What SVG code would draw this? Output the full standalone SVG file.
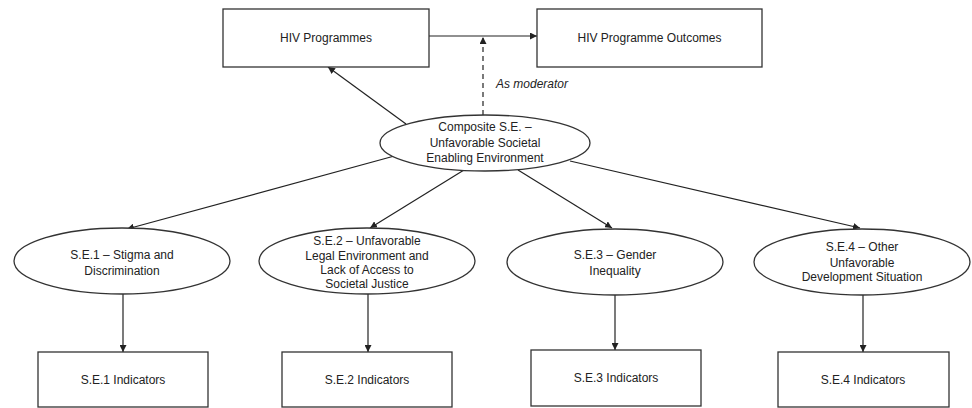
<svg xmlns="http://www.w3.org/2000/svg" width="972" height="408" viewBox="0 0 972 408">
<defs>
<style>
.box{fill:#fff;stroke:#333;stroke-width:1.3}
.t{font-family:"Liberation Sans",Arial,sans-serif;font-size:12px;fill:#222;text-anchor:middle}
.ln{stroke:#222;stroke-width:1.2;fill:none}
.dash{stroke:#222;stroke-width:1.2;fill:none;stroke-dasharray:5,4}
</style>
<marker id="ah" viewBox="0 0 10 10" refX="10" refY="5" markerWidth="7" markerHeight="7" orient="auto" markerUnits="userSpaceOnUse"><path d="M0,0 L10,5 L0,10 z" fill="#222"/></marker>
</defs>
<rect width="972" height="408" fill="#fff"/>
<g id="connectors">
<line class="ln" x1="429" y1="36" x2="537" y2="36" marker-end="url(#ah)"/>
<line class="dash" x1="483" y1="115" x2="483" y2="37" marker-end="url(#ah)"/>
<line class="ln" x1="406" y1="124" x2="328" y2="67" marker-end="url(#ah)"/>
<line class="ln" x1="398" y1="155" x2="127" y2="229" marker-end="url(#ah)"/>
<line class="ln" x1="464" y1="170" x2="370" y2="228" marker-end="url(#ah)"/>
<line class="ln" x1="518" y1="170" x2="612" y2="228" marker-end="url(#ah)"/>
<line class="ln" x1="570" y1="161" x2="860" y2="228" marker-end="url(#ah)"/>
<line class="ln" x1="123" y1="294" x2="123" y2="352" marker-end="url(#ah)"/>
<line class="ln" x1="368" y1="294" x2="368" y2="352" marker-end="url(#ah)"/>
<line class="ln" x1="615" y1="295" x2="615" y2="350" marker-end="url(#ah)"/>
<line class="ln" x1="863" y1="295" x2="863" y2="352" marker-end="url(#ah)"/>
<text x="496" y="88" font-family="Liberation Sans, Arial, sans-serif" font-size="12" font-style="italic" fill="#222">As moderator</text>
</g>
<g id="hiv-programmes">
<rect class="box" x="223" y="9" width="206" height="58"/>
<text class="t" x="326" y="42">HIV Programmes</text>
</g>
<g id="hiv-outcomes">
<rect class="box" x="537" y="9" width="225" height="58"/>
<text class="t" x="649.5" y="42">HIV Programme Outcomes</text>
</g>
<g id="composite">
<ellipse class="box" cx="485" cy="143" rx="105" ry="28"/>
<text class="t" x="485" y="131">Composite S.E. –</text>
<text class="t" x="485" y="147">Unfavorable Societal</text>
<text class="t" x="485" y="162">Enabling Environment</text>
</g>
<g id="se1">
<ellipse class="box" cx="122" cy="261" rx="108" ry="33"/>
<text class="t" x="122" y="259">S.E.1 – Stigma and</text>
<text class="t" x="122" y="275">Discrimination</text>
</g>
<g id="se2">
<ellipse class="box" cx="367" cy="261" rx="108" ry="33"/>
<text class="t" x="367" y="245">S.E.2 – Unfavorable</text>
<text class="t" x="367" y="260">Legal Environment and</text>
<text class="t" x="367" y="274">Lack of Access to</text>
<text class="t" x="367" y="288">Societal Justice</text>
</g>
<g id="se3">
<ellipse class="box" cx="615" cy="262" rx="108" ry="33"/>
<text class="t" x="615" y="259">S.E.3 – Gender</text>
<text class="t" x="615" y="275">Inequality</text>
</g>
<g id="se4">
<ellipse class="box" cx="862" cy="262" rx="108" ry="33"/>
<text class="t" x="862" y="251">S.E.4 – Other</text>
<text class="t" x="862" y="267">Unfavorable</text>
<text class="t" x="862" y="281">Development Situation</text>
</g>
<g id="se1-ind">
<rect class="box" x="38" y="352" width="170" height="55"/>
<text class="t" x="123" y="384">S.E.1 Indicators</text>
</g>
<g id="se2-ind">
<rect class="box" x="282" y="352" width="170" height="55"/>
<text class="t" x="367" y="384">S.E.2 Indicators</text>
</g>
<g id="se3-ind">
<rect class="box" x="531" y="350" width="170" height="56"/>
<text class="t" x="616" y="382">S.E.3 Indicators</text>
</g>
<g id="se4-ind">
<rect class="box" x="778" y="352" width="171" height="55"/>
<text class="t" x="863" y="384">S.E.4 Indicators</text>
</g>
</svg>
